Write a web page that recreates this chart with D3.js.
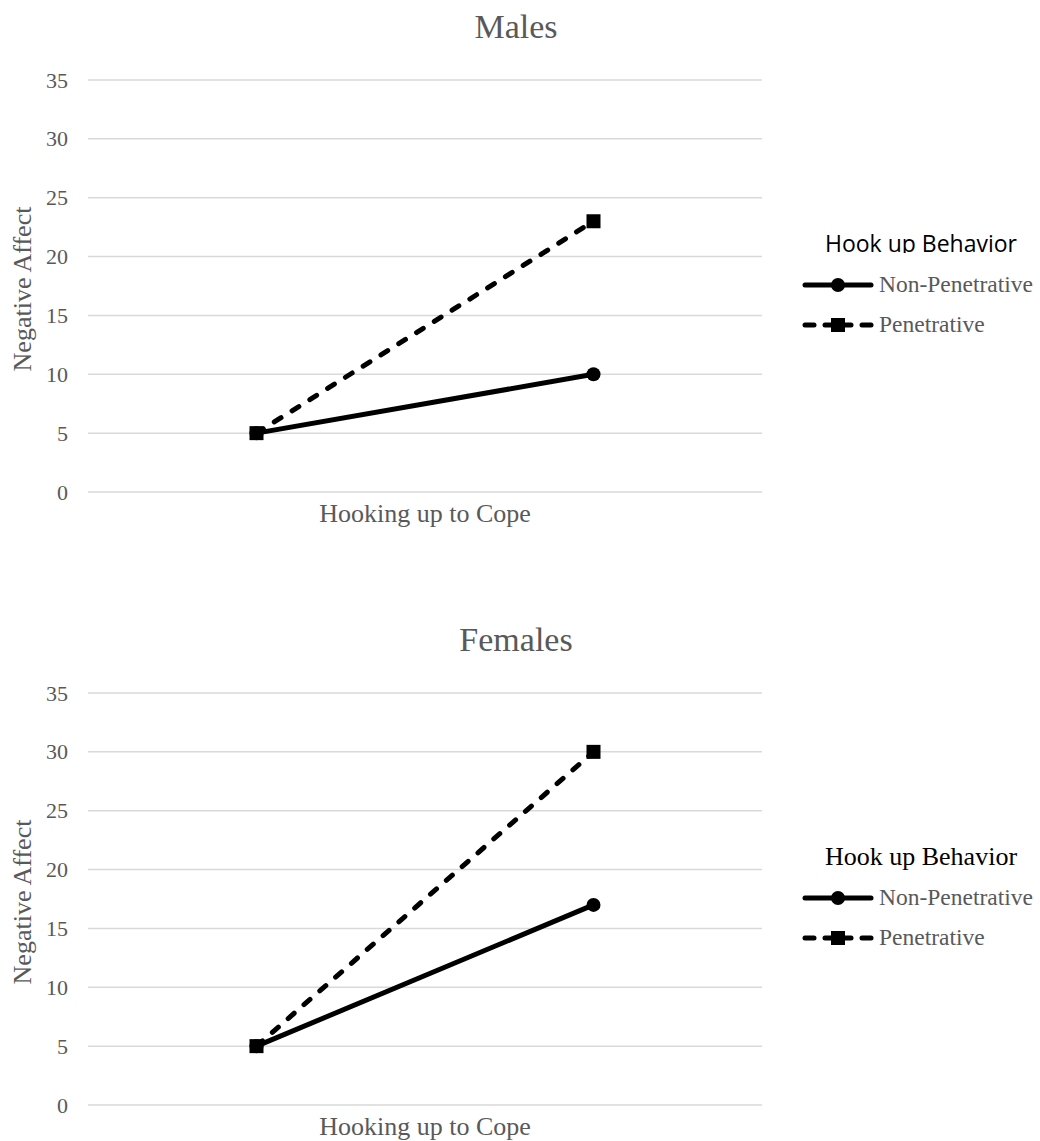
<!DOCTYPE html>
<html><head><meta charset="utf-8">
<script src="https://cdn.jsdelivr.net/npm/d3@7"></script>
<style>body{margin:0;background:#fff}</style>
</head><body>
<svg id="c" width="1040" height="1141"></svg>
<script>
const levels = ["Low", "High"];
const xLabel = "Hooking up to Cope";
const yTicks = [0, 5, 10, 15, 20, 25, 30, 35];
const seriesNames = ["Non-Penetrative", "Penetrative"];
const malesNonPen = [5, 10];
const malesPen = [5, 23];
const femalesNonPen = [5, 17];
const femalesPen = [5, 30];
const panels = [
  {id: "m", title: "Males", data: [malesNonPen, malesPen], top: 80, legendFont: "'Open Sans', sans-serif", legendSize: 23, clip: true},
  {id: "f", title: "Females", data: [femalesNonPen, femalesPen], top: 693, legendFont: "'Liberation Serif', 'Times New Roman', serif", legendSize: 26, clip: false}
];

const svg = d3.select("#c");
const serif = "'Liberation Serif', 'Times New Roman', serif";
const gray = "#595959";
const left = 88, right = 762, plotH = 412;

panels.forEach(p => {
  const g = svg.append("g");
  const x = d3.scalePoint().domain(levels).range([left, right]).padding(0.5);
  const y = d3.scaleLinear().domain([0, 35]).range([p.top + plotH, p.top]);

  g.selectAll(".grid").data(yTicks).enter().append("line")
    .attr("x1", left).attr("x2", right)
    .attr("y1", d => y(d)).attr("y2", d => y(d))
    .attr("stroke", "#d9d9d9").attr("stroke-width", 1.5);

  const yAxis = d3.axisLeft(y).tickValues(yTicks).tickSize(0).tickPadding(20);
  const ya = g.append("g").attr("transform", `translate(${left},0)`).call(yAxis);
  ya.select(".domain").remove();
  ya.selectAll("text").attr("font-family", serif).attr("font-size", 22).attr("fill", gray);

  g.append("text").attr("x", (left + right) / 2).attr("y", p.top + plotH + 30)
    .attr("text-anchor", "middle").attr("font-family", serif).attr("font-size", 26)
    .attr("fill", gray).text(xLabel);

  g.append("text").attr("transform", `translate(31,${y(17.5) + 3}) rotate(-90)`)
    .attr("text-anchor", "middle").attr("font-family", serif).attr("font-size", 26)
    .attr("fill", gray).text("Negative Affect");

  g.append("text").attr("x", 516).attr("y", p.top - 42)
    .attr("text-anchor", "middle").attr("font-family", serif).attr("font-size", 34)
    .attr("fill", gray).text(p.title);

  const line = d3.line().x((d, i) => x(levels[i])).y(d => y(d));
  p.data.forEach((vals, si) => {
    g.append("path").datum(vals).attr("d", line).attr("fill", "none")
      .attr("stroke", "#000").attr("stroke-width", 5).attr("stroke-linecap", "round")
      .attr("stroke-dasharray", si === 1 ? "8,13" : null);
    if (si === 0) {
      g.selectAll(null).data(vals).enter().append("circle")
        .attr("cx", (d, i) => x(levels[i])).attr("cy", d => y(d)).attr("r", 7).attr("fill", "#000");
    } else {
      g.selectAll(null).data(vals).enter().append("rect")
        .attr("x", (d, i) => x(levels[i]) - 7).attr("y", d => y(d) - 7)
        .attr("width", 14).attr("height", 14).attr("fill", "#000");
    }
  });

  const lg = g.append("g");
  const ly0 = p.top + 172;
  if (p.clip) {
    svg.append("defs").append("clipPath").attr("id", "clip-" + p.id)
      .append("rect").attr("x", 780).attr("y", ly0 - 40).attr("width", 260).attr("height", 41);
  }
  lg.append("text").attr("x", 921).attr("y", ly0)
    .attr("text-anchor", "middle")
    .attr("clip-path", p.clip ? `url(#clip-${p.id})` : null)
    .attr("font-family", p.legendFont).attr("font-size", p.legendSize).attr("fill", "#000")
    .text("Hook up Behavior");
  seriesNames.forEach((name, si) => {
    const ly = ly0 + 33 + si * 40;
    if (si === 0) {
      lg.append("line").attr("x1", 805).attr("x2", 871).attr("y1", ly).attr("y2", ly)
        .attr("stroke", "#000").attr("stroke-width", 5).attr("stroke-linecap", "round");
      lg.append("circle").attr("cx", 838).attr("cy", ly).attr("r", 7).attr("fill", "#000");
    } else {
      [[805, 814], [825, 851], [862, 871]].forEach(s => {
        lg.append("line").attr("x1", s[0]).attr("x2", s[1]).attr("y1", ly).attr("y2", ly)
          .attr("stroke", "#000").attr("stroke-width", 5).attr("stroke-linecap", "round");
      });
      lg.append("rect").attr("x", 831).attr("y", ly - 7).attr("width", 14).attr("height", 14).attr("fill", "#000");
    }
    lg.append("text").attr("x", 879).attr("y", ly + 7).attr("font-family", serif)
      .attr("font-size", 23.5).attr("fill", gray).text(name);
  });
});
</script>
</body></html>
